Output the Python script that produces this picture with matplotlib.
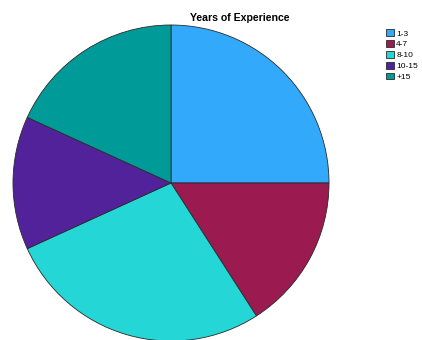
import matplotlib
matplotlib.use('Agg')
import matplotlib.pyplot as plt

labels = ['1-3', '4-7', '8-10', '10-15', '+15']
counts = [11, 7, 12, 6, 8]
colors = ['#33A9FB', '#9B1A50', '#24D6D6', '#52229A', '#009B99']

plt.rcParams['font.family'] = ['Liberation Sans', 'DejaVu Sans']

fig = plt.figure(figsize=(4.22, 3.40), dpi=100)
# pie centre ~ (171, 183) px, radius ~158 px
ax = fig.add_axes([13 / 422, -1 / 340, 316 / 422, 316 / 340])
wedges, _ = ax.pie(counts, colors=colors, startangle=90, counterclock=False,
                   radius=1, wedgeprops={'edgecolor': '#2a2a2a', 'linewidth': 0.6})
ax.set_xlim(-1, 1)
ax.set_ylim(-1, 1)
ax.axis('off')

fig.text(240 / 422, 1 - 18 / 340, 'Years of Experience', ha='center', va='center',
         fontsize=7.6, fontweight='bold')

for w in wedges:
    w.set_clip_on(False)

fig.legend(wedges, labels, loc='upper left', bbox_to_anchor=(382 / 422, 1 - 25 / 340),
           frameon=False, fontsize=6, handlelength=0.9, handleheight=0.9,
           labelspacing=0.3, handletextpad=0.3, borderpad=0)

fig.savefig('out.png', dpi=100)
